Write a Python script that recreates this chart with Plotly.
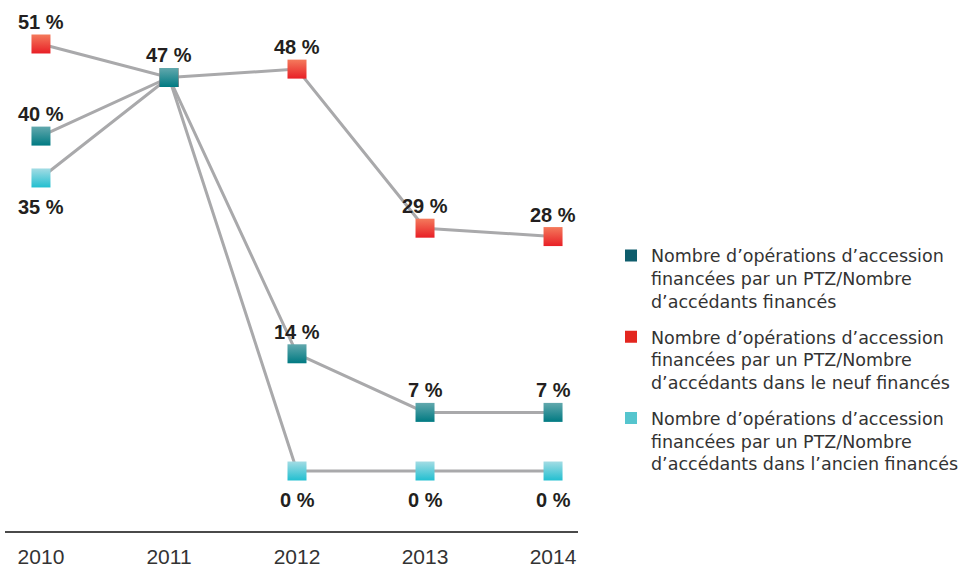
import plotly.graph_objects as go

# Years on the x axis
years = [2010, 2011, 2012, 2013, 2014]
year_labels = ["2010", "2011", "2012", "2013", "2014"]

# Shares (%) per series
total_share = [40, 47, 14, 7, 7]   # all financed buyers
neuf_share = [51, 47, 48, 29, 28]  # new-build buyers
ancien_share = [35, 47, 0, 0, 0]   # existing-home buyers

series_names = [
    "Nombre d’opérations d’accession<br>financées par un PTZ/Nombre<br>d’accédants financés",
    "Nombre d’opérations d’accession<br>financées par un PTZ/Nombre<br>d’accédants dans le neuf financés",
    "Nombre d’opérations d’accession<br>financées par un PTZ/Nombre<br>d’accédants dans l’ancien financés",
]

# Which points carry a value label, and on which side (+1 above, -1 below)
total_text_show = [True, False, True, True, True]
neuf_text_show = [True, True, True, True, True]
ancien_text_show = [True, False, True, True, True]
total_text_side = [1, 1, 1, 1, 1]
neuf_text_side = [1, 1, 1, 1, 1]
ancien_text_side = [-1, -1, -1, -1, -1]

LINE_GREY = "#a9a9ab"
LABEL_FONT = dict(family="Liberation Sans, Arial, sans-serif", size=20, color="#231f20", weight="bold")

series = [
    # (values, label flags, label sides, top colour, bottom colour, legend colour)
    (ancien_share, ancien_text_show, ancien_text_side, "#a3dce4", "#22bfd0", "#55c5ce"),
    (neuf_share, neuf_text_show, neuf_text_side, "#f47a5c", "#e81f26", "#e3261f"),
    (total_share, total_text_show, total_text_side, "#62a8ad", "#007a82", "#0e5d6c"),
]

fig = go.Figure()

# Grey connecting lines drawn first, beneath all markers
for vals, *_ in series:
    fig.add_trace(go.Scatter(
        x=years, y=vals, mode="lines",
        line=dict(color=LINE_GREY, width=3),
        showlegend=False, hoverinfo="skip",
    ))

# Glossy square markers
for vals, show, side, top_c, bot_c, _ in series:
    fig.add_trace(go.Scatter(
        x=years, y=vals, mode="markers",
        marker=dict(symbol="square", size=19, color=top_c,
                    gradient=dict(type="vertical", color=bot_c),
                    line=dict(width=0)),
        showlegend=False, cliponaxis=False,
    ))
    # value labels above or below each marker
    for x, v, s, sd in zip(years, vals, show, side):
        if s:
            fig.add_annotation(
                x=x, y=v, text=f"{v} %", showarrow=False,
                yshift=22 if sd > 0 else -29,
                font=LABEL_FONT,
            )

# Flat-colour legend entries
legend_order = [(series_names[0], series[2][5]), (series_names[1], series[1][5]), (series_names[2], series[0][5])]
for i, (name, col) in enumerate(legend_order):
    fig.add_trace(go.Scatter(
        x=[None], y=[None], mode="markers", name=name,
        marker=dict(symbol="square", size=14, color=col),
        legendgroup=f"g{i}",
    ))

fig.update_layout(
    width=966, height=569,
    margin=dict(l=5, r=388, t=10, b=38, autoexpand=False),
    paper_bgcolor="white", plot_bgcolor="white",
    showlegend=True,
    legend=dict(
        x=1.0576, xanchor="left", y=0.563, yanchor="top",
        font=dict(family="DejaVu Sans, sans-serif", size=17.5, color="#333333"),
        valign="top", tracegroupgap=10, itemsizing="constant",
        bgcolor="rgba(0,0,0,0)",
    ),
    xaxis=dict(
        range=[2009.719, 2014.195],
        tickmode="array", tickvals=years, ticktext=year_labels,
        showgrid=False, zeroline=False, automargin=False,
        showline=True, linecolor="#4a4a4a", linewidth=2,
        ticks="outside", ticklen=6, tickcolor="rgba(0,0,0,0)",
        tickfont=dict(family="Liberation Sans, Arial, sans-serif",
                      size=21, color="#333333"),
    ),
    yaxis=dict(
        range=[-7.166, 55.06],
        visible=False, showgrid=False, zeroline=False,
    ),
)

fig.write_html("out.html")
